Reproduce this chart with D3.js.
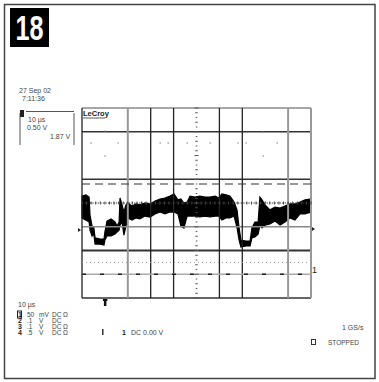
<!DOCTYPE html>
<html><head><meta charset="utf-8">
<script src="https://cdn.jsdelivr.net/npm/d3@7"></script>
<style>
body{margin:0;background:#fff;}
svg text{font-family:"Liberation Sans",Arial,sans-serif;fill:#444;}
</style></head>
<body><svg id="c" width="379" height="382"></svg>
<script>
// time in divisions (10 div across), voltage in divisions (±4)
const time  = [0,0.17,0.31,0.35,0.44,0.52,0.57,0.79,0.96,1.00,1.09,1.27,1.44,1.53,1.62,1.66,1.75,1.83,1.92,2.01,2.18,2.36,2.53,2.75,2.97,3.19,3.41,3.62,3.84,4.02,4.19,4.32,4.45,4.59,4.72,4.93,5.15,5.37,5.59,5.81,5.98,6.11,6.29,6.46,6.64,6.77,6.86,6.94,7.16,7.34,7.42,7.55,7.69,7.77,7.86,7.99,8.21,8.43,8.65,8.86,9.08,9.30,9.52,9.74,10.0];
const upper = [0.29,0.34,0.25,-0.51,-0.97,-1.05,-1.47,-1.52,-1.52,-1.22,-0.76,-0.67,-0.80,-0.97,-0.80,0.21,-0.08,-0.38,-0.08,0,-0.13,-0.04,-0.08,0,-0.04,0.08,0.17,0.21,0.29,0.38,0.13,0.17,0,0.04,0.29,0.25,0.29,0.25,0.25,0.29,0.21,0.38,0.34,0.29,0.04,-0.29,-1.05,-1.56,-1.60,-1.60,-1.05,-0.80,-0.80,0.25,0.13,-0.08,-0.29,-0.17,-0.21,-0.13,-0.04,-0.04,0.04,0.13,0.17];
const lower = [-0.63,-0.72,-0.80,-1.14,-1.39,-1.31,-1.73,-1.73,-1.77,-1.56,-1.39,-1.39,-1.31,-1.22,-1.14,-0.93,-0.80,-1.35,-0.97,-0.63,-0.72,-0.63,-0.67,-0.55,-0.59,-0.46,-0.38,-0.46,-0.38,-0.38,-0.46,-0.97,-1.05,-0.55,-0.55,-0.55,-0.59,-0.55,-0.59,-0.55,-0.55,-0.72,-0.63,-0.63,-0.55,-1.05,-1.56,-1.85,-1.81,-1.81,-1.47,-1.43,-1.31,-0.93,-1.05,-0.93,-0.88,-0.76,-0.93,-0.80,-0.63,-0.72,-0.46,-0.46,-0.38];
const gridV = [0,2,3,4,6,7,9,10];          // vertical grid lines (divisions)
const gridH = [-4,-2,-1,1,3,4];            // horizontal solid lines
const dashedLevel = 0.8;                   // dashed cursor line
const dottedLevels = [0,-2.5];             // dotted lines
const trigLevel = -3;                      // trigger level line
const specks = [[1.0,3.03],[0.39,2.53],[1.57,2.53],[1.0,1.98],[3.41,2.53],[3.76,2.53],[4.59,2.53],[5.59,2.53],[6.81,2.53],[7.16,2.53],[8.52,2.53],[7.91,3.0],[7.91,1.98]];
const dateLines = ["27 Sep 02","7:11:36"];
const boxLines = ["10 µs","0.50 V","1.87 V"];
const chLabels = ["1","2","3","4"];
const chScale = ["50","  .1",".1",".5"];
const chUnit = ["mV","V","V","V"];
const chCoupling = ["DC","DC","DC","DC"];
const chTerm = ["\u03A9","","\u03A9","\u03A9"];

const svg = d3.select("#c");
const x = d3.scaleLinear().domain([0,10]).range([82,311]);
const y = d3.scaleLinear().domain([-4,4]).range([298,108]);

// outer frame
svg.append("rect").attr("x",4.5).attr("y",4.5).attr("width",370.5).attr("height",374).attr("fill","none").attr("stroke","#444").attr("stroke-width",1.5);
// 18 badge
svg.append("rect").attr("x",10).attr("y",8).attr("width",39).attr("height",39).attr("fill","#000");
svg.append("text").attr("x",15.5).attr("y",40).attr("textLength",28).attr("lengthAdjust","spacingAndGlyphs")
  .style("font-family","'Liberation Sans',Arial,sans-serif").style("font-weight","bold").style("font-size","35px").style("fill","#fff").text("18");

const g = svg.append("g");
// waveform
const area = d3.area().x((d,i)=>x(time[i])).y0((d,i)=>y(lower[i])).y1((d,i)=>y(upper[i])).curve(d3.curveLinear);
g.append("path").datum(time).attr("d",area).attr("fill","#000").attr("stroke","#000").attr("stroke-width",1.2);

// grid horizontal
gridH.forEach(v=>{
  const grey = (v===-1||v===4);
  g.append("line").attr("x1",x(0)).attr("x2",x(10)).attr("y1",y(v)).attr("y2",y(v))
   .attr("stroke",grey?"#888":"#333").attr("stroke-width",v===-2?2:1.3);
});
// grid vertical
gridV.forEach(t=>{
  const grey = (t===2||t===9||t===10);
  g.append("line").attr("x1",x(t)).attr("x2",x(t)).attr("y1",y(4)).attr("y2",y(-4))
   .attr("stroke",grey?"#999":"#222").attr("stroke-width",grey?2:1.3);
});
// dashed level
g.append("line").attr("x1",x(0)).attr("x2",x(10)).attr("y1",y(dashedLevel)).attr("y2",y(dashedLevel))
 .attr("stroke","#333").attr("stroke-width",1.2).attr("stroke-dasharray","8,5");
// dotted levels
dottedLevels.forEach((v,k)=>{
  g.append("line").attr("x1",x(0)).attr("x2",x(10)).attr("y1",y(v)).attr("y2",y(v))
   .attr("stroke",k===0?"#333":"#999").attr("stroke-width",1).attr("stroke-dasharray",k===0?"1.3,1.3":"1,3");
});
// ticks on center horizontal
d3.range(0,10.01,0.2).forEach(t=>{
  g.append("line").attr("x1",x(t)).attr("x2",x(t)).attr("y1",y(0)-1.5).attr("y2",y(0)+1.5).attr("stroke","#444").attr("stroke-width",1);
});
// trigger level line
g.append("line").attr("x1",x(0)).attr("x2",x(10)).attr("y1",y(trigLevel)).attr("y2",y(trigLevel)).attr("stroke","#aaa").attr("stroke-width",1.3);
g.append("line").attr("x1",x(0)).attr("x2",x(10)).attr("y1",y(trigLevel)).attr("y2",y(trigLevel)).attr("stroke","#222").attr("stroke-width",1.3).attr("stroke-dasharray","4,14");
// center vertical tick axis
d3.range(-4,4.01,0.2).forEach((v,i)=>{
  const len = i%5===0?4:(i%2?2.5:1.5);
  g.append("line").attr("x1",x(5)-len/2).attr("x2",x(5)+len/2).attr("y1",y(v)).attr("y2",y(v)).attr("stroke","#555").attr("stroke-width",1);
});
// specks
g.selectAll("rect.sp").data(specks).enter().append("rect").attr("x",d=>x(d[0])-0.5).attr("y",d=>y(d[1])-0.5).attr("width",1.2).attr("height",1.2).attr("fill","#777");

// LeCroy label
svg.append("text").attr("x",83).attr("y",116).style("font-size","7.5px").style("font-weight","bold").style("fill","#222").text("LeCroy");
svg.append("line").attr("x1",83).attr("x2",105).attr("y1",118).attr("y2",118).attr("stroke","#333").attr("stroke-width",0.8);

// markers
svg.append("path").attr("d",`M${x(0)-4},${y(-1.14)-2}L${x(0)-1},${y(-1.14)}L${x(0)-4},${y(-1.14)+2}Z`).attr("fill","#222");
svg.append("path").attr("d",`M${x(10)+1},${y(-1.09)-2}L${x(10)+4},${y(-1.09)}L${x(10)+1},${y(-1.09)+2}Z`).attr("fill","#222");
svg.append("text").attr("x",x(10)+1).attr("y",y(trigLevel)-1).style("font-size","9px").style("fill","#222").text("1");
// trigger marker at bottom
svg.append("rect").attr("x",x(1)-1).attr("y",y(-4)+1).attr("width",2.5).attr("height",7).attr("fill","#111");
svg.append("rect").attr("x",x(1)-2).attr("y",y(-4)+1).attr("width",4.5).attr("height",2).attr("fill","#111");

// date
dateLines.forEach((s,i)=>svg.append("text").attr("x",i?22:19).attr("y",93+i*8).style("font-size","7px").text(s));
// box
svg.append("path").attr("d","M20,113V145M74,113V145M26,111.5H74").attr("fill","none").attr("stroke","#555").attr("stroke-width",1);
svg.append("rect").attr("x",20).attr("y",110).attr("width",4).attr("height",7).attr("fill","#222");
svg.append("text").attr("x",28).attr("y",122).style("font-size","7px").text(boxLines[0]);
svg.append("text").attr("x",27).attr("y",130).style("font-size","7px").text(boxLines[1]);
svg.append("text").attr("x",50).attr("y",139).style("font-size","7px").text(boxLines[2]);

// bottom text
svg.append("text").attr("x",18).attr("y",307).style("font-size","7px").text("10 µs");
chLabels.forEach((c,i)=>{
  const yy = 317+i*6;
  svg.append("text").attr("x",18).attr("y",yy).style("font-size","7px").style("font-weight","bold").style("fill","#222").text(c);
  svg.append("text").attr("x",27).attr("y",yy).style("font-size","6.5px").text(chScale[i].trim());
  svg.append("text").attr("x",39).attr("y",yy).style("font-size","6.5px").text(chUnit[i]);
  svg.append("text").attr("x",52).attr("y",yy).style("font-size","6.5px").text(chCoupling[i]);
  svg.append("text").attr("x",63).attr("y",yy).style("font-size","6.5px").text(chTerm[i]);
});
svg.append("rect").attr("x",17.5).attr("y",311).attr("width",4).attr("height",7).attr("fill","none").attr("stroke","#222");
svg.append("rect").attr("x",102).attr("y",329).attr("width",1.5).attr("height",6).attr("fill","#333");
svg.append("text").attr("x",122).attr("y",335).style("font-size","7px").style("font-weight","bold").style("fill","#222").text("1");
svg.append("text").attr("x",131).attr("y",335).style("font-size","7px").text("DC 0.00 V");
svg.append("text").attr("x",342).attr("y",330).style("font-size","7px").text("1 GS/s");
svg.append("rect").attr("x",311.5).attr("y",339.5).attr("width",4).attr("height",5).attr("fill","none").attr("stroke","#333");
svg.append("text").attr("x",328).attr("y",345).style("font-size","6.5px").text("STOPPED");
</script></body></html>
